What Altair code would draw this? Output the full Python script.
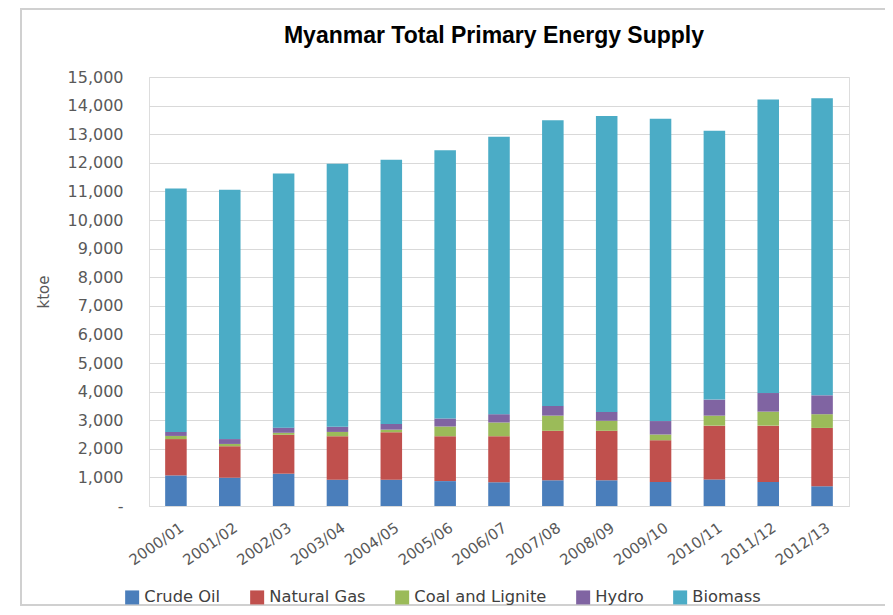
import altair as alt
import pandas as pd

years = ["2000/01", "2001/02", "2002/03", "2003/04", "2004/05", "2005/06", "2006/07",
         "2007/08", "2008/09", "2009/10", "2010/11", "2011/12", "2012/13"]
crude_oil = [1070, 990, 1130, 920, 920, 870, 830, 900, 900, 840, 930, 840, 690]
natural_gas = [1270, 1100, 1360, 1520, 1660, 1570, 1610, 1730, 1730, 1460, 1880, 1970, 2040]
coal_lignite = [110, 80, 70, 150, 90, 340, 480, 530, 350, 200, 350, 490, 480]
hydro = [140, 170, 180, 180, 200, 280, 290, 340, 310, 470, 560, 650, 660]
biomass = [8515, 8720, 8890, 9200, 9240, 9380, 9700, 9990, 10345, 10570, 9400, 10260, 10390]

sources = ["Crude Oil", "Natural Gas", "Coal and Lignite", "Hydro", "Biomass"]
colors = ["#4A7EBB", "#C0504D", "#9BBB59", "#8064A2", "#4BACC6"]
series = [crude_oil, natural_gas, coal_lignite, hydro, biomass]
title_text = "Myanmar Total Primary Energy Supply"

rows = []
for si, (name, vals) in enumerate(zip(sources, series)):
    for y, v in zip(years, vals):
        rows.append({"year": y, "source": name, "value": v, "order": si})
df = pd.DataFrame(rows)

bars = alt.Chart(df).mark_bar().encode(
    x=alt.X("year:N", sort=years,
            scale=alt.Scale(paddingInner=0.6, paddingOuter=0.3),
            axis=alt.Axis(title=None, labelAngle=-35, labelAlign="right",
                          labelBaseline="top", labelPadding=14, labelOffset=2,
                          ticks=False, domain=True, domainColor="#d9d9d9",
                          labelFont="DejaVu Sans", labelFontSize=15,
                          labelColor="#595959", grid=False)),
    y=alt.Y("value:Q", stack="zero",
            scale=alt.Scale(domain=[0, 15000], nice=False),
            axis=alt.Axis(title="ktoe", values=list(range(0, 15001, 1000)),
                          labelExpr="datum.value == 0 ? '-' : format(datum.value, ',')",
                          ticks=False, domain=False, grid=True, gridColor="#d9d9d9",
                          labelPadding=26, labelFont="DejaVu Sans", labelFontSize=16,
                          labelColor="#595959", titleFont="DejaVu Sans",
                          titleFontSize=15, titleFontWeight="normal",
                          titleColor="#595959", titlePadding=16)),
    color=alt.Color("source:N", sort=sources,
                    scale=alt.Scale(domain=sources, range=colors),
                    legend=alt.Legend(title=None, orient="none", direction="horizontal",
                                      legendX=-25, legendY=512, symbolType="square",
                                      symbolSize=196, symbolStrokeWidth=0,
                                      labelFont="DejaVu Sans", labelFontSize=16.3,
                                      labelColor="#404040", labelOffset=4,
                                      columnPadding=28, padding=0)),
    order=alt.Order("order:Q", sort="ascending"),
)

one_df = pd.DataFrame({"t": [title_text]})
frame = alt.Chart(one_df).mark_rect(filled=False, stroke="#d0d0d0", strokeWidth=2,
                                    clip=False).encode(
    x=alt.value(-128), x2=alt.value(760), y=alt.value(-68), y2=alt.value(528)
)
title = alt.Chart(one_df).mark_text(font="Liberation Sans", fontSize=23, fontWeight="bold",
                                    color="#000000", align="center",
                                    baseline="alphabetic").encode(
    text="t:N", x=alt.value(345), y=alt.value(-34)
)

chart = alt.layer(frame, title, bars).properties(
    width=700, height=429,
    autosize=alt.AutoSizeParams(type="none"),
    padding={"left": 141, "top": 69, "right": 36, "bottom": 101},
).configure_view(stroke=None).configure(background="white")

chart.save("out.html", embed_options={"renderer": "svg", "actions": False})
